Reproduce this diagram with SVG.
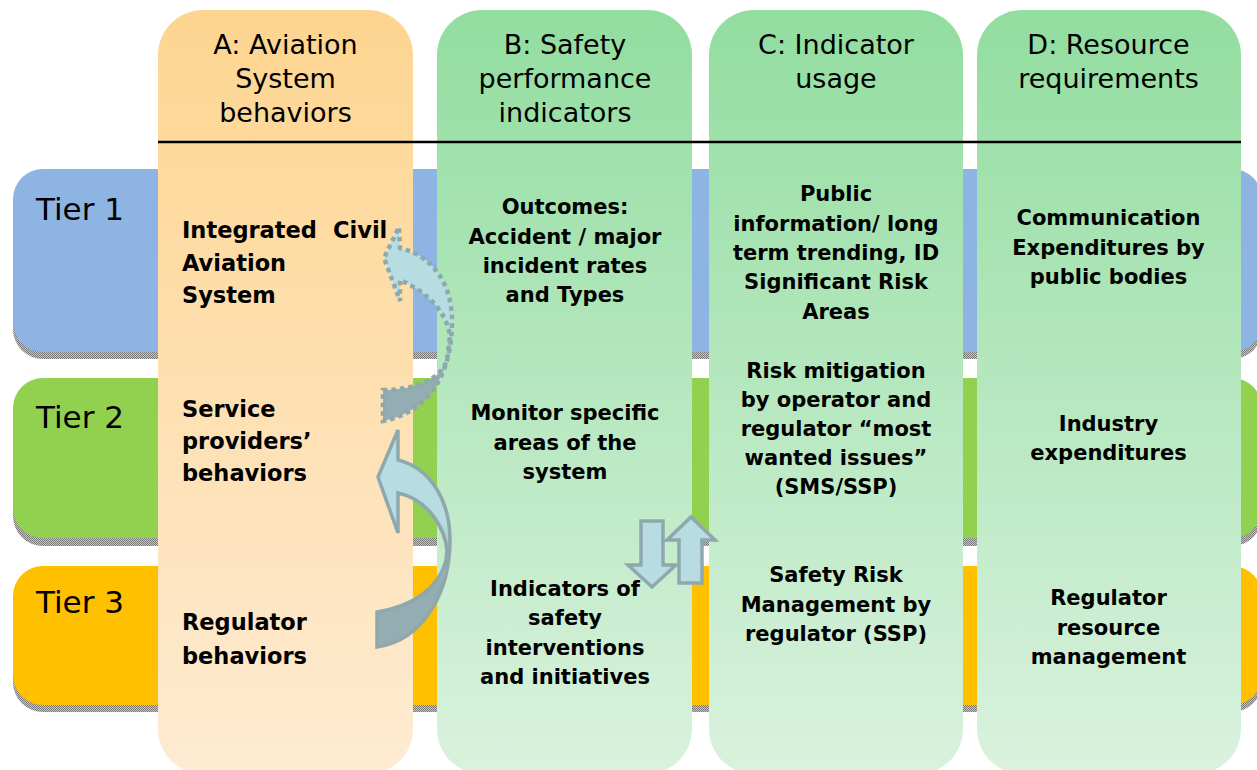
<svg xmlns="http://www.w3.org/2000/svg" width="1257" height="770" viewBox="0 0 1257 770">
<style>
.hd{font-family:"DejaVu Sans",Verdana,sans-serif;font-size:27px;fill:#000;text-anchor:middle}
.tier{font-family:"DejaVu Sans",Verdana,sans-serif;font-size:31px;fill:#000}
.a{font-family:"DejaVu Sans",Verdana,sans-serif;font-size:22.5px;font-weight:bold;fill:#000}
.b{font-family:"DejaVu Sans",Verdana,sans-serif;font-size:21px;font-weight:bold;fill:#000;text-anchor:middle}
.arrowline{stroke:#8EA8AD;stroke-width:3.5;stroke-linejoin:miter}
.dotted{stroke-width:4.5;stroke-dasharray:4.5 4}
</style>
<defs>
<pattern id="chk" width="2" height="2" patternUnits="userSpaceOnUse">
<rect width="2" height="2" fill="#c4c4c4"/>
<rect width="1" height="1" fill="#7a7a7a"/>
<rect x="1" y="1" width="1" height="1" fill="#7a7a7a"/>
</pattern>
<linearGradient id="gA" x1="0" y1="10" x2="0" y2="774" gradientUnits="userSpaceOnUse">
<stop offset="0" stop-color="#FDD590"/>
<stop offset="1" stop-color="#FEEBD2"/>
</linearGradient>
<linearGradient id="gG" x1="0" y1="10" x2="0" y2="774" gradientUnits="userSpaceOnUse">
<stop offset="0" stop-color="#92DDA0"/>
<stop offset="1" stop-color="#DAF2DE"/>
</linearGradient>
<linearGradient id="gArr1" x1="0" y1="520" x2="0" y2="585" gradientUnits="userSpaceOnUse">
<stop offset="0" stop-color="#B7DDE3"/>
<stop offset="1" stop-color="#93ADB2"/>
</linearGradient>
<linearGradient id="gArr2" x1="0" y1="325" x2="0" y2="360" gradientUnits="userSpaceOnUse">
<stop offset="0" stop-color="#B7DDE3"/>
<stop offset="1" stop-color="#93ADB2"/>
</linearGradient>
</defs>
<rect width="1257" height="770" fill="#fff"/>

<g id="tier1">
<rect x="13" y="176" width="1249" height="183" rx="30" fill="url(#chk)"/>
<rect x="13" y="169" width="1249" height="183" rx="30" fill="#8EB4E3"/>
<text class="tier" x="36" y="220">Tier 1</text>
</g>
<g id="tier2">
<rect x="13" y="386" width="1249" height="160" rx="30" fill="url(#chk)"/>
<rect x="13" y="378" width="1249" height="160" rx="30" fill="#92D050"/>
<text class="tier" x="36" y="428">Tier 2</text>
</g>
<g id="tier3">
<rect x="13" y="573" width="1249" height="139" rx="30" fill="url(#chk)"/>
<rect x="13" y="566" width="1249" height="139" rx="30" fill="#FFC000"/>
<text class="tier" x="36" y="613">Tier 3</text>
</g>

<g id="colA">
<rect x="158" y="10" width="255" height="764" rx="45" fill="url(#gA)"/>
<text class="hd" x="285.5" y="54">A: Aviation</text>
<text class="hd" x="285.5" y="88">System</text>
<text class="hd" x="285.5" y="122">behaviors</text>
<text class="a" x="182" y="238">Integrated<tspan x="333">Civil</tspan></text>
<text class="a" x="182" y="271">Aviation</text>
<text class="a" x="182" y="303">System</text>
<text class="a" x="182" y="417">Service</text>
<text class="a" x="182" y="449">providers’</text>
<text class="a" x="182" y="481">behaviors</text>
<text class="a" x="182" y="630">Regulator</text>
<text class="a" x="182" y="664">behaviors</text>
</g>

<g id="colB">
<rect x="437" y="10" width="255" height="764" rx="45" fill="url(#gG)"/>
<text class="hd" x="565" y="54">B: Safety</text>
<text class="hd" x="565" y="88">performance</text>
<text class="hd" x="565" y="122">indicators</text>
<text class="b" x="565" y="214">Outcomes:</text>
<text class="b" x="565" y="243.5">Accident / major</text>
<text class="b" x="565" y="273">incident rates</text>
<text class="b" x="565" y="302">and Types</text>
<text class="b" x="565" y="420">Monitor specific</text>
<text class="b" x="565" y="449.5">areas of the</text>
<text class="b" x="565" y="479">system</text>
<text class="b" x="565" y="596">Indicators of</text>
<text class="b" x="565" y="625">safety</text>
<text class="b" x="565" y="654.5">interventions</text>
<text class="b" x="565" y="684">and initiatives</text>
</g>

<g id="colC">
<rect x="709" y="10" width="254" height="764" rx="45" fill="url(#gG)"/>
<text class="hd" x="836" y="54">C: Indicator</text>
<text class="hd" x="836" y="88">usage</text>
<text class="b" x="836" y="201">Public</text>
<text class="b" x="836" y="230.5">information/ long</text>
<text class="b" x="836" y="260">term trending, ID</text>
<text class="b" x="836" y="289">Significant Risk</text>
<text class="b" x="836" y="318.5">Areas</text>
<text class="b" x="836" y="378">Risk mitigation</text>
<text class="b" x="836" y="407">by operator and</text>
<text class="b" x="836" y="436">regulator “most</text>
<text class="b" x="836" y="465">wanted issues”</text>
<text class="b" x="836" y="494">(SMS/SSP)</text>
<text class="b" x="836" y="582">Safety Risk</text>
<text class="b" x="836" y="611.5">Management by</text>
<text class="b" x="836" y="641">regulator (SSP)</text>
</g>

<g id="colD">
<rect x="977" y="10" width="264" height="764" rx="45" fill="url(#gG)"/>
<text class="hd" x="1108.5" y="54">D: Resource</text>
<text class="hd" x="1108.5" y="88">requirements</text>
<text class="b" x="1108.5" y="225">Communication</text>
<text class="b" x="1108.5" y="254.5">Expenditures by</text>
<text class="b" x="1108.5" y="284">public bodies</text>
<text class="b" x="1108.5" y="431">Industry</text>
<text class="b" x="1108.5" y="460">expenditures</text>
<text class="b" x="1108.5" y="605">Regulator</text>
<text class="b" x="1108.5" y="634.5">resource</text>
<text class="b" x="1108.5" y="664">management</text>
</g>

<g id="headerLine">
<line x1="158" y1="142" x2="1241" y2="142" stroke="#000" stroke-width="2.5"/>
</g>

<g id="connectors">
<path id="arrowDotted" class="arrowline dotted" fill="url(#gArr2)"
 d="M383,390 C410,390 440,382 447,360 L450,336 C447,314 430,293 400,280 L400,301 L384,258 L399,227 L400,248 C432,256 452,282 452,322 C452,372 430,412 383,421 Z"/>
<path id="arrowCurved" class="arrowline" fill="url(#gArr1)"
 d="M377,612 C407,607 438,592 446,560 L447,550 C445,530 430,500 398,493 L398,533 L378,477 L398,430 L398,460 C430,468 450,500 450,540 C450,590 425,640 377,647 Z"/>
<path id="arrowDown" class="arrowline" fill="#B7DDE3"
 d="M641,521 L663,521 L663,565 L676,565 L652,587 L628,565 L641,565 Z"/>
<path id="arrowUp" class="arrowline" fill="#B7DDE3"
 d="M679,583 L702,583 L702,540 L715,540 L691,517 L667,540 L679,540 Z"/>
</g>
</svg>
